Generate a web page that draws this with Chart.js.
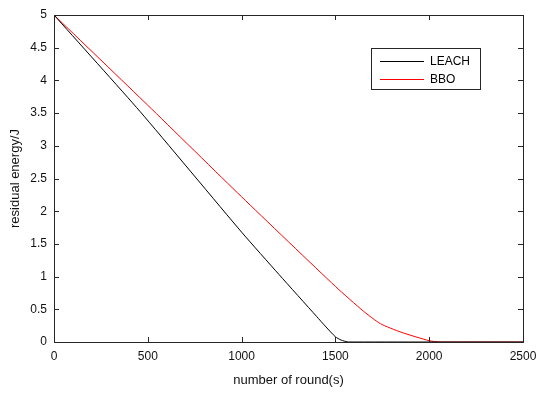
<!DOCTYPE html>
<html>
<head>
<meta charset="utf-8">
<script src="https://cdn.jsdelivr.net/npm/chart.js@4.4.0/dist/chart.umd.min.js"></script>
<style>
  html, body { margin: 0; padding: 0; background: #fff; }
  #wrap { width: 550px; height: 394px; }
</style>
</head>
<body>
<div id="wrap"><canvas id="energy-chart"></canvas></div>
<script>
// values
const leachRounds = [0, 460, 1000, 1200, 1400, 1450, 1500, 1530, 1570, 2500];
const leachEnergy = [5, 3.52, 1.68, 1.03, 0.39, 0.23, 0.08, 0.03, 0, 0];
const bboRounds = [0, 500, 1000, 1500, 1650, 1740, 1850, 2000, 2058, 2500];
const bboEnergy = [5, 3.62, 2.22, 0.85, 0.47, 0.28, 0.15, 0.02, 0, 0];
const seriesNames = ["LEACH", "BBO"];
const seriesColors = ["#000000", "#ff0000"];
const xTicks = [0, 500, 1000, 1500, 2000, 2500];
const yTicks = [0, 0.5, 1, 1.5, 2, 2.5, 3, 3.5, 4, 4.5, 5];

const fontFamily = "'Liberation Sans', Arial, sans-serif";
const axisColor = "#262626";

function toPoints(xs, ys) {
  return xs.map((x, i) => ({ x: x, y: ys[i] }));
}

/**
 * box around the plot, inward ticks on all sides and the legend box
 */
const matlabFrame = {
  id: "matlabFrame",
  afterDraw(chart) {
    const ctx = chart.ctx;
    const area = chart.chartArea;
    const xs = chart.scales.x;
    const ys = chart.scales.y;
    const tick = 5;
    ctx.save();
    ctx.strokeStyle = axisColor;
    ctx.lineWidth = 1;
    ctx.beginPath();
    xTicks.forEach((v) => {
      const px = Math.round(xs.getPixelForValue(v)) + 0.5;
      ctx.moveTo(px, area.bottom);
      ctx.lineTo(px, area.bottom - tick);
      ctx.moveTo(px, area.top);
      ctx.lineTo(px, area.top + tick);
    });
    yTicks.forEach((v) => {
      const py = Math.round(ys.getPixelForValue(v)) + 0.5;
      ctx.moveTo(area.left, py);
      ctx.lineTo(area.left + tick, py);
      ctx.moveTo(area.right, py);
      ctx.lineTo(area.right - tick, py);
    });
    ctx.stroke();
    ctx.strokeRect(Math.round(area.left) + 0.5, Math.round(area.top) + 0.5,
      Math.round(area.right - area.left), Math.round(area.bottom - area.top));

    // legend
    const lx = 371, ly = 48, lw = 109, lh = 41;
    ctx.fillStyle = "#fff";
    ctx.fillRect(lx, ly, lw, lh);
    ctx.strokeStyle = axisColor;
    ctx.strokeRect(lx + 0.5, ly + 0.5, lw, lh);
    ctx.font = "12px " + fontFamily;
    ctx.textBaseline = "middle";
    chart.data.datasets.forEach((ds, i) => {
      const y = ly + 13 + i * 17.5;
      ctx.strokeStyle = ds.borderColor;
      ctx.beginPath();
      ctx.moveTo(lx + 9, Math.round(y) + 0.5);
      ctx.lineTo(lx + 53, Math.round(y) + 0.5);
      ctx.stroke();
      ctx.fillStyle = "#000";
      ctx.fillText(ds.label, lx + 59, y + 1);
    });
    ctx.restore();
  },
};

new Chart(document.getElementById("energy-chart"), {
  type: "line",
  data: {
    datasets: [
      {
        label: seriesNames[0],
        data: toPoints(leachRounds, leachEnergy),
        borderColor: seriesColors[0],
        borderWidth: 1,
        pointRadius: 0,
        tension: 0.2,
      },
      {
        label: seriesNames[1],
        data: toPoints(bboRounds, bboEnergy),
        borderColor: seriesColors[1],
        borderWidth: 1,
        pointRadius: 0,
        tension: 0.2,
      },
    ],
  },
  options: {
    responsive: true,
    maintainAspectRatio: false,
    animation: false,
    layout: { padding: { left: 8, top: 15, right: 27, bottom: 6 } },
    plugins: {
      legend: { display: false },
      tooltip: { enabled: false },
    },
    scales: {
      x: {
        type: "linear",
        min: 0,
        max: 2500,
        afterBuildTicks: (scale) => {
          scale.ticks = xTicks.map((v) => ({ value: v }));
        },
        afterFit: (scale) => {
          scale.height = 46;
        },
        grid: { display: false, drawTicks: false },
        border: { display: false },
        ticks: {
          color: "#111",
          padding: 7,
          maxRotation: 0,
          font: { family: fontFamily, size: 12 },
          callback: (v) => String(v),
        },
        title: {
          display: true,
          text: "number of round(s)",
          color: "#111",
          padding: { top: 0, bottom: 0 },
          font: { family: fontFamily, size: 13 },
        },
      },
      y: {
        type: "linear",
        min: 0,
        max: 5,
        afterBuildTicks: (scale) => {
          scale.ticks = yTicks.map((v) => ({ value: v }));
        },
        afterFit: (scale) => {
          scale.width = 46;
        },
        grid: { display: false, drawTicks: false },
        border: { display: false },
        ticks: {
          color: "#111",
          padding: 7,
          font: { family: fontFamily, size: 12 },
          callback: (v) => String(v),
        },
        title: {
          display: true,
          text: "residual energy/J",
          color: "#111",
          padding: { top: 0, bottom: 0 },
          font: { family: fontFamily, size: 13 },
        },
      },
    },
  },
  plugins: [matlabFrame],
});
</script>
</body>
</html>
